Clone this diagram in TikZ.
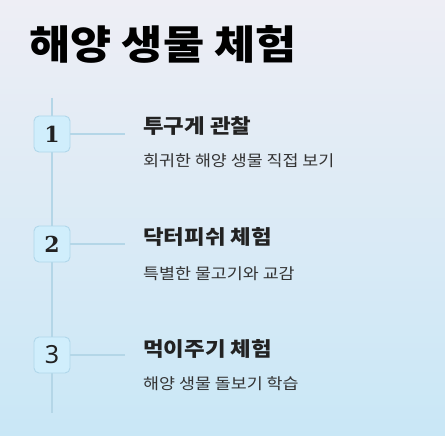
\documentclass[tikz,border=0pt]{standalone}
\usepackage{fontspec}
\setmainfont{Noto Sans CJK KR}[FakeStretch=1.12]
\newfontfamily\numfont{DejaVu Serif}
\newfontfamily\numsans{Noto Sans}
\usetikzlibrary{positioning}
\definecolor{bgtop}{HTML}{EEEEF5}
\definecolor{bgbot}{HTML}{C9E7F6}
\definecolor{linecol}{HTML}{B4D6E7}
\definecolor{boxfill}{HTML}{D0EEFC}
\definecolor{boxline}{HTML}{B0D7EA}
\definecolor{headcol}{HTML}{222222}
\definecolor{subcol}{HTML}{333333}

\begin{document}
\begin{tikzpicture}[
    x=1pt, y=-1pt,
    numbox/.style={rectangle, draw=boxline, line width=0.9pt, fill=boxfill, rounded corners=5pt, minimum size=36pt, inner sep=0pt, font=\fontsize{22}{22}\selectfont\numfont\bfseries, text=headcol},
    link/.style={draw=linecol, line width=1.8pt},
    heading/.style={anchor=base west, inner sep=0pt, font=\fontsize{20}{20}\selectfont\bfseries, text=headcol},
    subtext/.style={anchor=base west, inner sep=0pt, font=\fontsize{15.5}{16}\selectfont, text=subcol}
]
    \useasboundingbox (0,0) rectangle (445,436);
    \shade[top color=bgtop, bottom color=bgbot] (0,0) rectangle (445,436);

    \node[anchor=base west, inner sep=0pt, font=\fontsize{40}{40}\selectfont\bfseries, text=black] (title) at (29,60) {해양 생물 체험};

    % timeline
    \coordinate (tltop) at (52,98);
    \coordinate (tlbot) at (52,413);
    \draw[link] (tltop) -- (tlbot);

    \node[numbox] (step1) at (52,134) {1};
    \node[numbox] (step2) at (52,244) {2};
    \node[numbox, font=\fontsize{25}{25}\selectfont\numsans] (step3) at (52,355) {3};

    \coordinate (end1) at (125,134);
    \coordinate (end2) at (125,244);
    \coordinate (end3) at (125,355);
    \draw[link] (step1) -- (end1);
    \draw[link] (step2) -- (end2);
    \draw[link] (step3) -- (end3);

    \node[heading] (head1) at (143,134) {투구게 관찰};
    \node[subtext] (sub1) at (143,167) {회귀한 해양 생물 직접 보기};
    \node[heading] (head2) at (143,244) {닥터피쉬 체험};
    \node[subtext] (sub2) at (143,279) {특별한 물고기와 교감};
    \node[heading] (head3) at (143,356) {먹이주기 체험};
    \node[subtext] (sub3) at (143,389) {해양 생물 돌보기 학습};
\end{tikzpicture}
\end{document}
